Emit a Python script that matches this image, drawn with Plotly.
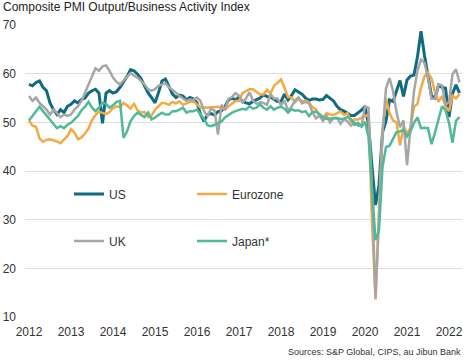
import plotly.graph_objects as go

start_year = 2012
us = [57.8, 57.5, 58.2, 58.5, 57.2, 56.5, 54.0, 52.6, 51.6, 52.6, 52.0, 53.3,
      53.7, 54.4, 54.0, 54.7, 55.0, 56.0, 56.5, 56.8, 56.0, 49.8, 56.0, 56.5,
      56.0, 56.3, 57.2, 58.3, 59.4, 60.8, 60.6, 59.9, 59.0, 57.5, 56.1, 55.1,
      54.0, 56.1, 58.5, 58.9, 57.2, 55.8, 55.1, 55.6, 55.4, 54.6, 55.1, 54.8,
      54.0, 51.6, 50.2, 51.6, 51.8, 51.5, 52.2, 52.4, 53.2, 54.6, 55.0, 54.6,
      55.2, 54.3, 54.0, 53.8, 54.3, 54.6, 55.0, 55.7, 55.3, 55.2, 54.8, 54.3,
      54.3, 55.8, 54.6, 55.5, 56.7, 56.3, 55.8, 55.0, 54.5, 54.8, 54.8, 54.6,
      54.7, 55.5, 55.0, 54.4, 53.3, 52.6, 52.3, 51.9, 51.4, 51.4, 51.9, 52.5,
      53.3, 49.6, 40.9, 33.0, 37.0, 47.9, 50.3, 54.6, 54.3, 56.3, 58.6, 55.3,
      58.7, 59.5, 59.7, 63.5, 68.7, 63.7, 59.9, 55.4, 55.0, 57.6, 57.2, 57.0,
      51.1, 55.9, 57.7, 56.0]
eurozone = [50.4, 49.3, 49.1, 46.7, 46.0, 46.4, 46.5, 46.3, 46.1, 45.7, 46.5, 47.2,
            48.6, 47.9, 46.5, 46.9, 47.7, 48.7, 50.5, 51.5, 52.2, 51.9, 51.7, 52.1,
            52.9, 53.3, 53.1, 54.0, 53.5, 52.8, 53.8, 52.5, 52.0, 52.1, 51.1, 51.4,
            52.6, 53.3, 54.0, 53.9, 53.6, 54.2, 53.9, 54.3, 53.6, 53.9, 54.2, 54.3,
            53.6, 53.0, 53.1, 53.0, 53.1, 53.1, 53.2, 52.9, 52.6, 53.3, 53.9, 54.4,
            54.4, 56.0, 56.4, 56.8, 56.8, 56.3, 55.7, 55.7, 56.7, 55.9, 57.5, 58.1,
            58.8, 57.1, 55.2, 55.1, 54.1, 54.9, 54.3, 54.5, 54.1, 53.1, 52.7, 51.1,
            51.0, 51.9, 51.6, 51.5, 51.8, 52.2, 51.5, 51.9, 50.1, 50.6, 50.6, 50.9,
            51.3, 51.6, 29.7, 13.6, 31.9, 48.5, 54.9, 51.9, 50.4, 50.0, 45.3, 49.1,
            47.8, 48.8, 53.2, 53.8, 57.1, 59.5, 60.2, 59.0, 56.2, 54.2, 55.4, 53.3,
            52.3, 55.5, 54.9, 55.8]
uk = [55.4, 54.4, 55.1, 54.0, 53.3, 52.6, 51.6, 52.6, 51.9, 51.1, 51.6, 51.3,
      51.6, 52.6, 53.3, 54.4, 56.1, 57.8, 59.2, 61.1, 60.6, 61.5, 61.7, 60.6,
      59.2, 58.3, 57.8, 58.5, 59.4, 60.1, 59.6, 59.2, 58.5, 57.8, 56.8, 56.5,
      56.8, 57.5, 57.8, 58.0, 57.2, 56.7, 56.1, 55.4, 54.9, 54.4, 54.7, 54.6,
      55.1, 54.4, 52.3, 51.3, 52.8, 52.4, 47.5, 53.6, 52.6, 54.8, 55.2, 56.0,
      55.5, 54.1, 54.9, 56.2, 54.5, 53.8, 54.1, 54.0, 53.6, 55.8, 54.9, 54.9,
      53.5, 54.5, 52.4, 53.2, 54.5, 55.1, 53.9, 54.2, 53.9, 52.1, 50.8, 51.4,
      50.3, 51.5, 50.0, 50.9, 50.9, 49.7, 50.7, 50.2, 49.3, 50.0, 49.3, 49.3,
      53.3, 53.0, 36.0, 13.8, 30.0, 47.7, 57.0, 59.1, 56.5, 52.1, 49.0, 50.4,
      41.2, 49.6, 56.4, 60.7, 62.9, 62.2, 59.2, 54.8, 54.9, 57.8, 57.6, 53.6,
      54.2, 59.9, 60.9, 58.2]
japan = [50.4, 51.4, 52.3, 53.2, 52.3, 51.4, 50.4, 49.5, 48.8, 49.2, 48.8, 49.5,
         49.9, 50.6, 51.3, 52.5, 53.2, 54.2, 53.0, 52.3, 53.0, 54.0, 53.8, 53.0,
         53.5, 54.2, 54.4, 46.8, 48.1, 50.2, 51.3, 52.0, 51.6, 51.1, 52.0, 50.6,
         51.0, 51.6, 52.0, 51.6, 51.6, 52.3, 52.3, 52.6, 53.0, 52.0, 52.3, 52.3,
         52.6, 51.6, 50.7, 49.4, 49.2, 49.5, 49.9, 50.2, 51.0, 51.6, 52.0, 52.3,
         52.6, 52.8, 52.6, 53.3, 52.8, 53.0, 53.7, 53.0, 52.6, 53.3, 52.6, 53.0,
         53.2, 52.8, 52.0, 52.7, 52.4, 52.5, 52.1, 52.3, 51.3, 52.1, 52.2, 51.7,
         51.0, 50.7, 50.8, 50.9, 50.9, 50.7, 50.7, 51.1, 50.6, 49.5, 49.9, 49.1,
         50.1, 47.0, 36.2, 25.8, 27.8, 40.8, 44.9, 45.2, 46.6, 48.0, 48.1, 48.5,
         47.1, 48.2, 49.9, 51.0, 48.8, 48.9, 48.8, 45.5, 47.9, 50.7, 53.3, 52.5,
         49.9, 45.8, 50.3, 51.1]
year_ticks = list(range(2012, 2023))
year_labels = [str(y) for y in year_ticks]
y_ticks = [10, 20, 30, 40, 50, 60, 70]

x = [start_year + i / 12 for i in range(len(us))]

series = [
    ("US", us, "#0f6b82", 3.0, "legend"),
    ("Eurozone", eurozone, "#f4a942", 2.5, "legend"),
    ("UK", uk, "#a6a6a6", 2.5, "legend2"),
    ("Japan*", japan, "#4fb99a", 2.5, "legend2"),
]

fig = go.Figure()
for name, vals, col, w, lg in series:
    fig.add_trace(go.Scatter(x=x, y=vals, mode="lines", name=name,
                             line=dict(color=col, width=w), legend=lg))

font = "Arial, Liberation Sans, sans-serif"
fig.update_layout(
    width=473, height=363,
    margin=dict(l=25, r=11, t=25, b=46, autoexpand=False),
    paper_bgcolor="white", plot_bgcolor="white",
    font=dict(family=font, size=12, color="#333"),
    title=dict(text="Composite PMI Output/Business Activity Index",
               x=3 / 473, xref="container", xanchor="left",
               y=1 - 7 / 363, yref="container", yanchor="middle",
               font=dict(family=font, size=12, color="#222")),
    xaxis=dict(range=[2012 - 4 / 42, 2012 + 433 / 42], tickvals=year_ticks,
               ticktext=year_labels, showgrid=False, zeroline=False,
               showline=False, ticks="", ticklabelstandoff=6,
               tickfont=dict(size=12, color="#333")),
    xaxis2=dict(overlaying="x", matches="x", anchor="free", position=40 / 60,
                showline=True, linecolor="#a0a0a0", linewidth=1,
                ticks="outside", ticklen=4, tickcolor="#a0a0a0",
                tickvals=year_ticks, showticklabels=False, showgrid=False,
                zeroline=False, layer="below traces"),
    yaxis=dict(range=[10, 70], tickvals=y_ticks, showgrid=True,
               gridcolor="#dedede", gridwidth=1, zeroline=False,
               showline=False, ticks="", ticklabelstandoff=8,
               tickfont=dict(size=12, color="#333")),
    legend=dict(orientation="h", x=(69 - 25) / 437, xanchor="left",
                y=(317 - 194) / 292, yanchor="middle",
                entrywidth=78, entrywidthmode="pixels",
                bgcolor="rgba(0,0,0,0)", font=dict(size=12, color="#333")),
    legend2=dict(orientation="h", x=(69 - 25) / 437, xanchor="left",
                 y=(317 - 241) / 292, yanchor="middle",
                 entrywidth=78, entrywidthmode="pixels",
                 bgcolor="rgba(0,0,0,0)", font=dict(size=12, color="#333")),
    showlegend=True,
)
fig.add_annotation(text="Sources: S&P Global, CIPS, au Jibun Bank",
                   xref="paper", yref="paper", x=(463 - 25) / 437,
                   y=(317 - 352) / 292, xanchor="right", yanchor="middle",
                   showarrow=False, font=dict(family=font, size=9, color="#333"))

fig.write_html("out.html", config={"displayModeBar": False},
               post_script="document.body.style.margin='0px';")
